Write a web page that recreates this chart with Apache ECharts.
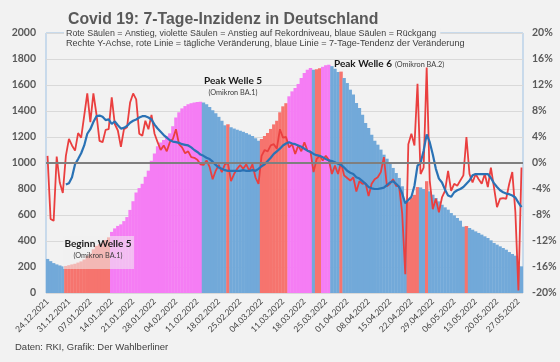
<!DOCTYPE html>
<html>
<head>
<meta charset="utf-8">
<script src="https://cdn.jsdelivr.net/npm/echarts@6/dist/echarts.min.js"></script>
<style>
html,body{margin:0;padding:0;background:#f2f2f2;}
#c{width:560px;height:362px;}
</style>
</head>
<body>
<div id="c"></div>
<script>
// ---- DATA ----
const startDay = [2021, 12, 24];   // first category (24.12.2021), one category per day
const dayCount = 156;

// 7-Tage-Inzidenz (left axis)
const incidence = [
  262,245,230,220,212,205,
  208,214,220,225,234,243,258,285,303,336,363,376,388,408,428,
  470,497,516,528,553,584,639,706,773,807,840,894,941,1017,1073,1128,1157,1177,1206,1228,1283,1350,1390,1420,1438,1452,1460,1465,1469,1472,
  1466,1452,1430,1405,1382,1355,1325,1290,
  1298,
  1275,1265,1256,1248,1240,1230,1220,1208,1190,1172,
  1185,1208,1230,1262,1297,1325,1390,1436,1460,
  1513,1551,1577,1608,1654,1692,1718,1731,
  1718,
  1722,1728,
  1740,1752,1756,
  1745,1725,1700,
  1703,
  1654,1615,1564,1526,1462,1423,1372,1308,1269,1218,1172,1141,1103,1064,1033,1000,962,923,885,821,
  690,
  705,735,755,815,
  812,800,
  860,
  782,756,731,705,679,659,641,615,597,577,556,510,
  515,
  500,487,474,462,449,436,423,405,385,372,359,346,333,315,300,287,207,205
];

// bar colour class per day, as runs: b = Rückgang, r = Anstieg, v = Anstieg auf Rekordniveau
const barClassRuns = [
  ['b',6],['r',15],['v',30],['b',8],['r',1],['b',10],['r',9],['v',8],['b',1],['r',2],
  ['v',3],['b',3],['r',1],['b',20],['b',1],['r',4],['b',2],['r',1],['b',12],['r',1],['b',18]
];

// tägliche Veränderung in % (right axis, red line)
const dailyChange = [
  1.1,-8.6,-8.9,1.0,-3.0,-4.6,
  1.1,3.7,2.7,1.9,4.6,3.9,7.3,10.7,6.3,10.7,7.5,3.4,3.2,5.1,5.2,
  10.1,6.0,5.0,2.5,5.2,5.5,9.3,10.7,9.8,4.5,4.2,6.5,5.2,7.4,4.5,3.2,2.0,2.7,1.8,3.2,3.7,5.2,2.9,2.4,1.5,1.8,0.9,0.8,0.5,-0.2,
  -0.3,0.4,-0.6,-2.5,-1.2,-0.3,-1.4,-0.2,0.0,-2.8,-1.7,-0.9,-0.3,-0.9,-0.2,-1.2,-0.2,-2.2,-3.2,
  1.1,2.0,1.8,2.7,2.9,2.2,5.2,3.9,4.0,
  2.4,2.9,1.4,2.7,1.8,3.2,1.9,1.8,-1.4,0.6,1.1,0.4,1.1,0.5,-1.7,-0.4,-1.7,0.1,
  -1.9,-2.3,-2.7,-2.2,-4.4,-2.8,-3.2,-3.1,-5.1,-3.2,-2.5,-2.2,-1.4,0.9,-3.6,-3.2,-2.5,-3.5,-3.6,-7.8,-17.1,
  2.9,4.5,2.7,12.2,-1.7,-0.7,14.7,-2.7,-7.1,-5.5,-7.6,-5.3,-4.3,-1.2,-4.3,-3.2,-3.5,-2.7,-1.9,
  4.0,-1.7,-3.0,-1.7,-2.5,-3.2,-1.7,-3.7,-0.7,-3.7,-6.8,-5.5,-5.4,-5.5,-3.2,-1.4,-7.5,-19.6,-0.7
];

// 7-Tage-Tendenz der Veränderung in % (right axis, blue line)
const trend = [
  null,null,null,null,null,null,
  -3.3,-3.1,-2.2,-0.2,0.6,1.5,2.7,4.5,5.2,6.3,7.2,7.3,7.1,6.6,6.7,
  6.0,6.4,5.8,5.3,5.4,5.7,6.2,6.5,6.7,7.0,7.2,7.2,7.0,6.7,5.9,5.3,4.8,4.3,3.9,3.5,3.3,3.2,3.1,2.9,2.8,2.7,2.4,2.0,1.7,1.3,
  1.1,0.8,0.6,0.2,-0.3,-0.7,-0.9,-1.1,-1.2,-1.2,-1.2,-1.2,-1.2,-1.1,-1.2,-1.2,-1.1,-1.2,-0.9,-0.5,-0.2,0.3,0.8,1.4,1.8,2.2,2.7,3.0,
  3.2,3.0,2.9,2.7,2.5,2.2,1.9,1.7,1.4,1.2,1.1,0.9,0.6,0.4,0.3,0.1,-0.1,-0.3,-0.7,-1.2,-1.5,-1.7,-2.2,-2.4,-2.8,-3.2,-3.7,-3.9,-4.0,-4.0,-3.9,-3.8,-3.4,-3.0,-2.8,-3.2,-3.7,-4.7,-6.2,
  -5.7,-5.2,-3.5,-0.4,0.0,1.9,4.4,3.2,1.3,-0.9,-2.4,-3.0,-4.1,-5.0,-5.2,-4.5,-4.2,-4.0,-3.7,-3.2,-2.7,-1.9,-1.7,-1.7,-1.7,-1.7,-1.7,-2.3,-3.1,-3.7,-4.2,-4.5,-4.7,-4.8,-5.0,-5.3,-6.1,-6.8
];

const leftTicks = {min: 0, max: 2000, interval: 200};
const rightTicks = {min: -20, max: 20, interval: 4};
const zeroLevel = 1000;

// ---- BUILD ----
function pad(n){return (n<10?'0':'')+n;}
const categories = [];
for (let i = 0; i < dayCount; i++) {
  const d = new Date(startDay[0], startDay[1]-1, startDay[2] + i);
  categories.push(pad(d.getDate()) + '.' + pad(d.getMonth()+1) + '.' + d.getFullYear());
}
const classColors = {b: '#72a9d9', r: '#f6746e', v: '#f57df4'};
const barClasses = [];
barClassRuns.forEach(([c, n]) => { for (let k = 0; k < n; k++) barClasses.push(c); });
const barData = incidence.map((v, i) => ({value: v, itemStyle: {color: classColors[barClasses[i]]}}));

const chart = echarts.init(document.getElementById('c'), null, {renderer: 'canvas'});
const axisFont = 'Lato, "Open Sans", sans-serif';
chart.setOption({
  backgroundColor: '#f2f2f2',
  animation: false,
  title: {
    text: 'Covid 19: 7-Tage-Inzidenz in Deutschland',
    left: 63, top: 7,
    textStyle: {fontFamily: '"Liberation Sans", Arial, sans-serif', fontSize: 15.8, fontWeight: 'bold', color: '#595959'}
  },
  grid: {left: 46, right: 37, top: 33, bottom: 69, show: true, borderColor: '#9fc2e4', borderWidth: 1, backgroundColor: 'transparent'},
  xAxis: {
    type: 'category', data: categories, boundaryGap: true,
    axisLine: {show: false}, axisTick: {show: false},
    axisLabel: {interval: 6, rotate: 45, fontSize: 8.5, color: '#404040', fontFamily: axisFont, margin: 7}
  },
  yAxis: [
    {type: 'value', min: leftTicks.min, max: leftTicks.max, interval: leftTicks.interval,
     axisLine: {show: false}, axisTick: {show: false},
     axisLabel: {formatter: (v) => String(v), fontSize: 10.5, fontWeight: 'bold', color: '#595959', fontFamily: axisFont, margin: 10},
     splitLine: {show: true, lineStyle: {color: '#d9d9d9', width: 1}}},
    {type: 'value', min: rightTicks.min, max: rightTicks.max, interval: rightTicks.interval,
     axisLine: {show: false}, axisTick: {show: false},
     axisLabel: {formatter: (v) => v + '%', fontSize: 10.5, fontWeight: 'bold', color: '#595959', fontFamily: axisFont, margin: 9},
     splitLine: {show: false}}
  ],
  series: [
    {type: 'bar', yAxisIndex: 0, data: barData, barCategoryGap: '-12%', barGap: '0%', silent: true,
     markLine: {silent: true, symbol: 'none', label: {show: false},
       lineStyle: {color: '#7f7f7f', width: 2, type: 'solid'}, data: [{yAxis: zeroLevel}]}},
    {type: 'line', yAxisIndex: 1, data: dailyChange, symbol: 'none', smooth: false,
     lineStyle: {color: '#ea3f3f', width: 1.8}, z: 3},
    {type: 'line', yAxisIndex: 1, data: trend, symbol: 'none', smooth: false, connectNulls: false,
     lineStyle: {color: '#2a72b5', width: 2.2}, z: 4}
  ],
  graphic: [
    {type: 'text', left: 64, top: 28, z: 10, style: {text: 'Rote Säulen = Anstieg, violette Säulen = Anstieg auf Rekordniveau, blaue Säulen = Rückgang',
      font: '8.9px "Liberation Sans", Arial, sans-serif', fill: '#404040', backgroundColor: '#f2f2f2', padding: [1, 4, 1, 2]}},
    {type: 'text', left: 66, top: 39, z: 10, style: {text: 'Rechte Y-Achse, rote Linie = tägliche Veränderung, blaue Linie = 7-Tage-Tendenz der Veränderung',
      font: '9.1px "Liberation Sans", Arial, sans-serif', fill: '#404040'}},
    {type: 'rect', shape: {x: 63, y: 236, width: 71, height: 33}, z: 10, style: {fill: 'rgba(240,240,240,0.55)'}},
    {type: 'text', x: 98, y: 244, z: 11, style: {text: 'Beginn Welle 5', font: 'bold 10px Lato, sans-serif', fill: '#1a1a1a', align: 'center', verticalAlign: 'middle'}},
    {type: 'text', x: 98, y: 256, z: 11, style: {text: '(Omikron BA.1)', font: '7.3px Lato, sans-serif', fill: '#404040', align: 'center', verticalAlign: 'middle'}},
    {type: 'text', x: 233, y: 81, z: 11, style: {text: 'Peak Welle 5', font: 'bold 10px Lato, sans-serif', fill: '#1a1a1a', align: 'center', verticalAlign: 'middle'}},
    {type: 'text', x: 233, y: 93, z: 11, style: {text: '(Omikron BA.1)', font: '7.3px Lato, sans-serif', fill: '#404040', align: 'center', verticalAlign: 'middle'}},
    {type: 'text', x: 334, y: 64, z: 11, style: {text: 'Peak Welle 6', font: 'bold 10px Lato, sans-serif', fill: '#1a1a1a', align: 'left', verticalAlign: 'middle'}},
    {type: 'text', x: 395, y: 65, z: 11, style: {text: '(Omikron BA.2)', font: '7.3px Lato, sans-serif', fill: '#404040', align: 'left', verticalAlign: 'middle'}},
    {type: 'text', left: 15, top: 342, z: 10, style: {text: 'Daten: RKI, Grafik: Der Wahlberliner', font: '9.5px "Liberation Sans", Arial, sans-serif', fill: '#404040'}}
  ]
});
</script>
</body>
</html>
